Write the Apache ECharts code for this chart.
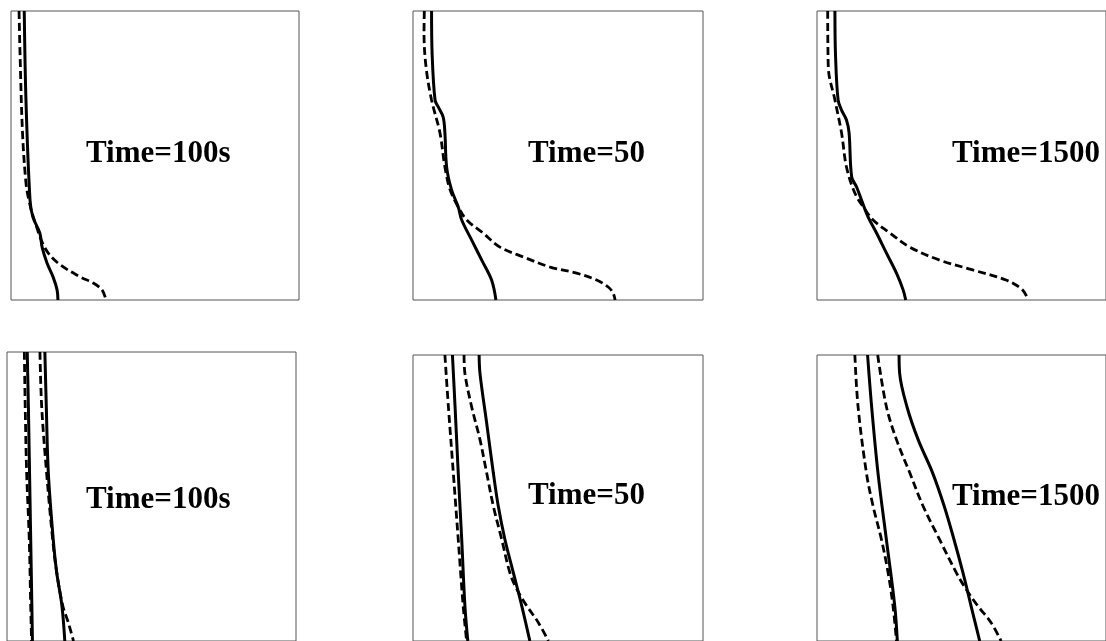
<!DOCTYPE html>
<html>
<head>
<meta charset="utf-8">
<script src="https://cdn.jsdelivr.net/npm/echarts@6/dist/echarts.min.js"></script>
<style>
  html, body { margin: 0; padding: 0; background: #fff; }
  #chart { width: 1106px; height: 641px; }
</style>
</head>
<body>
<div id="chart"></div>
<script>
// Profiles: each point is [value, depth], depth 0 = top of panel, 1 = bottom.
const panelLabels = ['Time=100s', 'Time=50', 'Time=1500', 'Time=100s', 'Time=50', 'Time=1500'];

// Top row
const p1Solid = [[0.046,0],[0.052,0.31],[0.066,0.654],[0.076,0.713],[0.10,0.768],[0.108,0.817],[0.125,0.872],[0.146,0.92],[0.16,0.965],[0.163,1]];
const p1Dashed = [[0.028,0],[0.031,0.135],[0.04,0.422],[0.052,0.595],[0.062,0.654],[0.08,0.72],[0.118,0.82],[0.163,0.872],[0.24,0.92],[0.285,0.941],[0.316,0.965],[0.33,1]];

const p2Solid = [[0.064,0],[0.066,0.15],[0.076,0.308],[0.087,0.332],[0.104,0.367],[0.11,0.422],[0.116,0.54],[0.133,0.619],[0.156,0.678],[0.168,0.723],[0.202,0.792],[0.237,0.862],[0.271,0.931],[0.286,1]];
const p2Dashed = [[0.039,0],[0.038,0.076],[0.045,0.194],[0.064,0.308],[0.093,0.422],[0.11,0.54],[0.128,0.619],[0.156,0.678],[0.185,0.723],[0.241,0.768],[0.30,0.817],[0.38,0.851],[0.473,0.886],[0.564,0.907],[0.633,0.931],[0.673,0.955],[0.69,0.976],[0.697,1]];

const p3Solid = [[0.062,0],[0.064,0.15],[0.073,0.308],[0.085,0.343],[0.102,0.377],[0.111,0.422],[0.12,0.574],[0.137,0.609],[0.154,0.654],[0.177,0.713],[0.206,0.768],[0.24,0.837],[0.275,0.907],[0.298,0.965],[0.307,1]];
const p3Dashed = [[0.037,0],[0.039,0.194],[0.062,0.308],[0.085,0.422],[0.102,0.54],[0.131,0.63],[0.16,0.678],[0.194,0.723],[0.252,0.768],[0.321,0.817],[0.424,0.862],[0.539,0.896],[0.654,0.931],[0.711,0.965],[0.731,1]];

// Bottom row (two pairs of profiles per panel)
const p4SolidA = [[0.07,0],[0.074,0.189],[0.078,0.418],[0.082,0.648],[0.086,0.878],[0.088,1]];
const p4DashedA = [[0.06,0],[0.063,0.189],[0.068,0.418],[0.077,0.648],[0.082,0.878],[0.085,1]];
const p4SolidB = [[0.131,0],[0.136,0.189],[0.143,0.418],[0.16,0.648],[0.172,0.763],[0.19,0.878],[0.2,1]];
const p4DashedB = [[0.114,0],[0.12,0.189],[0.137,0.418],[0.158,0.648],[0.172,0.763],[0.193,0.878],[0.212,0.936],[0.23,1]];

const p5DashedA = [[0.11,0],[0.122,0.18],[0.139,0.412],[0.156,0.645],[0.173,0.877],[0.185,1]];
const p5SolidA = [[0.136,0],[0.145,0.18],[0.156,0.412],[0.168,0.645],[0.179,0.877],[0.189,1]];
const p5DashedB = [[0.176,0],[0.179,0.064],[0.202,0.18],[0.231,0.296],[0.254,0.412],[0.277,0.528],[0.306,0.645],[0.334,0.761],[0.358,0.819],[0.392,0.877],[0.432,0.935],[0.467,1]];
const p5SolidB = [[0.228,0],[0.231,0.064],[0.254,0.238],[0.277,0.412],[0.294,0.528],[0.317,0.645],[0.346,0.761],[0.375,0.877],[0.403,1]];

const p6DashedA = [[0.131,0],[0.142,0.18],[0.171,0.412],[0.194,0.528],[0.223,0.645],[0.246,0.761],[0.263,0.877],[0.275,1]];
const p6SolidA = [[0.175,0],[0.189,0.18],[0.211,0.412],[0.24,0.645],[0.269,0.877],[0.278,1]];
const p6DashedB = [[0.21,0],[0.24,0.18],[0.275,0.296],[0.321,0.412],[0.367,0.528],[0.424,0.645],[0.482,0.761],[0.516,0.819],[0.556,0.877],[0.602,0.935],[0.637,1]];
const p6SolidB = [[0.284,0],[0.286,0.064],[0.311,0.18],[0.35,0.296],[0.40,0.412],[0.44,0.528],[0.474,0.645],[0.505,0.761],[0.533,0.877],[0.563,1]];

const panelCurves = [
  [[p1Solid, 'solid'], [p1Dashed, 'dashed']],
  [[p2Solid, 'solid'], [p2Dashed, 'dashed']],
  [[p3Solid, 'solid'], [p3Dashed, 'dashed']],
  [[p4SolidA, 'solid'], [p4DashedA, 'dashed'], [p4SolidB, 'solid'], [p4DashedB, 'dashed']],
  [[p5SolidA, 'solid'], [p5DashedA, 'dashed'], [p5SolidB, 'solid'], [p5DashedB, 'dashed']],
  [[p6SolidA, 'solid'], [p6DashedA, 'dashed'], [p6SolidB, 'solid'], [p6DashedB, 'dashed']]
];

// Panel frames in pixels
const frames = [
  { left: 11, top: 11, width: 288, height: 289 },
  { left: 413, top: 11, width: 290, height: 289 },
  { left: 817, top: 11, width: 290, height: 289 },
  { left: 7, top: 352, width: 289, height: 290 },
  { left: 413, top: 355, width: 290, height: 287 },
  { left: 817, top: 355, width: 290, height: 287 }
];
const labelPos = [[86, 154], [528, 154], [952, 154], [86, 500], [528, 496], [952, 497]];

const grids = [], xAxes = [], yAxes = [], series = [], texts = [];
frames.forEach((f, i) => {
  grids.push(Object.assign({ show: true, borderColor: '#555', borderWidth: 1, backgroundColor: 'transparent', containLabel: false }, f));
  xAxes.push({ type: 'value', gridIndex: i, min: 0, max: 1, show: false });
  yAxes.push({ type: 'value', gridIndex: i, min: 0, max: 1, inverse: true, show: false });
  panelCurves[i].forEach(([pts, kind]) => {
    series.push({
      type: 'line', xAxisIndex: i, yAxisIndex: i, data: pts,
      smooth: 0.35, showSymbol: false, symbol: 'none', silent: true, clip: true,
      lineStyle: kind === 'solid'
        ? { color: '#000', width: 3, type: 'solid' }
        : { color: '#000', width: 2.8, type: [8, 4] }
    });
  });
  texts.push({
    type: 'text', x: labelPos[i][0], y: labelPos[i][1], silent: true,
    style: {
      text: panelLabels[i], fill: '#000',
      font: 'bold 31px "Liberation Serif", "Times New Roman", serif',
      textAlign: 'left', textVerticalAlign: 'middle'
    }
  });
});

const chart = echarts.init(document.getElementById('chart'), null, { renderer: 'canvas' });
chart.setOption({
  animation: false,
  backgroundColor: '#fff',
  grid: grids, xAxis: xAxes, yAxis: yAxes, series: series,
  graphic: texts
});
</script>
</body>
</html>
